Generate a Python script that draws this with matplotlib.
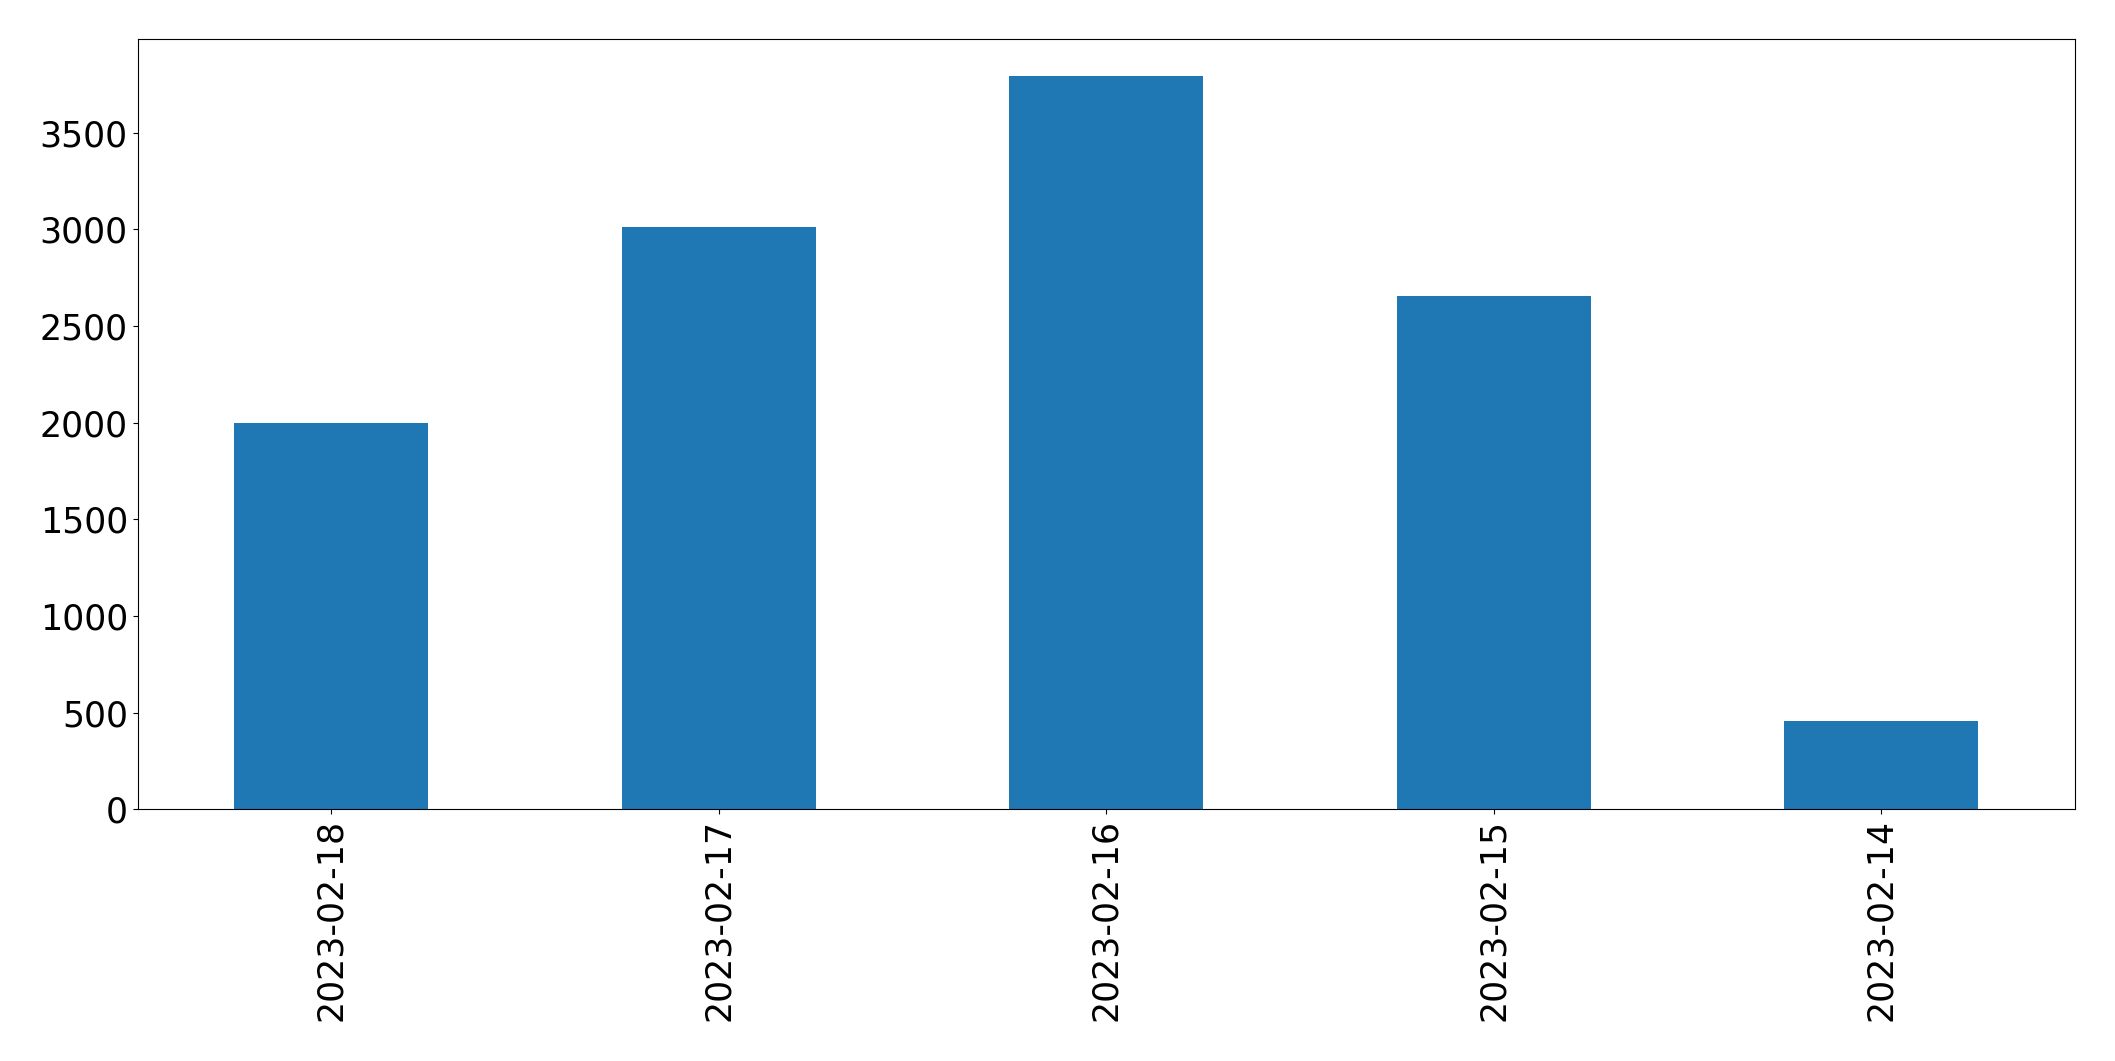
import matplotlib
matplotlib.use("Agg")
import matplotlib.pyplot as plt

dates = ["2023-02-18", "2023-02-17", "2023-02-16", "2023-02-15", "2023-02-14"]
counts = [1998, 3015, 3795, 2655, 456]

fig = plt.figure(figsize=(21.15, 10.61), dpi=100)
ax = fig.add_axes([137.6 / 2115, 1 - 809.2 / 1061, (2075 - 137.6) / 2115, (809.2 - 39.1) / 1061])

x = range(len(dates))
ax.bar(x, counts, width=0.5, color="#1f77b4")
ax.set_xlim(-0.5, len(dates) - 0.5)
ax.set_ylim(0, max(counts) * 1.05)
ax.set_xticks(list(x))
ax.set_xticklabels(dates, rotation=90)
ax.tick_params(axis="both", labelsize=25)

fig.savefig("out.png", dpi=100)
